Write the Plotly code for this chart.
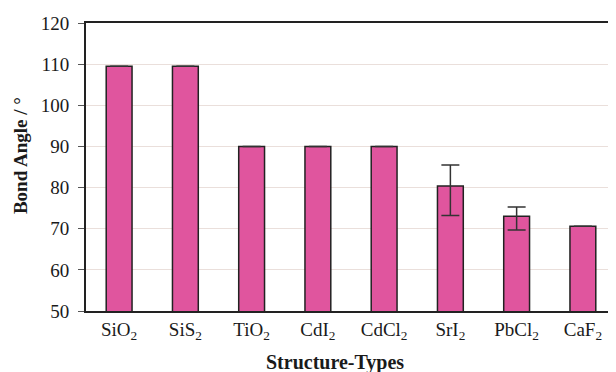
import plotly.graph_objects as go

categories = ["SiO<sub>2</sub>", "SiS<sub>2</sub>", "TiO<sub>2</sub>", "CdI<sub>2</sub>",
              "CdCl<sub>2</sub>", "SrI<sub>2</sub>", "PbCl<sub>2</sub>", "CaF<sub>2</sub>"]
angles = [109.5, 109.5, 90, 90, 90, 80.4, 73.0, 70.6]
err_plus = [0, 0, 0, 0, 0, 5.1, 2.3, 0]
err_minus = [0, 0, 0, 0, 0, 7.2, 3.3, 0]
y_ticks = [50, 60, 70, 80, 90, 100, 110, 120]
x_title = "Structure-Types"
y_title = "Bond Angle / °"

font_family = "Liberation Serif, Times New Roman, serif"

fig = go.Figure()
fig.add_trace(go.Bar(
    x=categories, y=angles,
    marker=dict(color="#e0559e", line=dict(color="#222222", width=1.5)),
    width=0.39,
    error_y=dict(type="data", symmetric=False, array=err_plus, arrayminus=err_minus,
                 color="#333333", thickness=1.5, width=9),
))

fig.update_layout(
    width=608, height=364,
    margin=dict(l=78, r=0, t=15, b=61),
    plot_bgcolor="white", paper_bgcolor="white",
    font=dict(family=font_family, size=19, color="#1a1a1a"),
    showlegend=False,
    xaxis=dict(
        automargin=False,
        showline=True, linecolor="#222222", linewidth=2, mirror=True,
        ticks="", tickfont=dict(size=19),
    ),
    yaxis=dict(
        automargin=False,
        range=[50, 120], tickvals=y_ticks,
        showline=True, linecolor="#222222", linewidth=2, mirror=True,
        ticks="outside", ticklen=6, tickcolor="#555555",
        ticklabelstandoff=5,
        showgrid=True, gridcolor="#eadfdb", gridwidth=1,
        tickfont=dict(size=19),
    ),
    annotations=[
        dict(text=f"<b>{x_title}</b>", xref="paper", yref="paper", x=0.47, y=0,
             xanchor="center", yanchor="middle", yshift=-51, showarrow=False,
             font=dict(size=20)),
        dict(text=f"<b>{y_title}</b>", xref="paper", yref="paper", x=0, y=0.538,
             xanchor="center", yanchor="middle", xshift=-66, showarrow=False,
             textangle=-90, font=dict(size=19)),
    ],
)

fig.write_html("out.html")
